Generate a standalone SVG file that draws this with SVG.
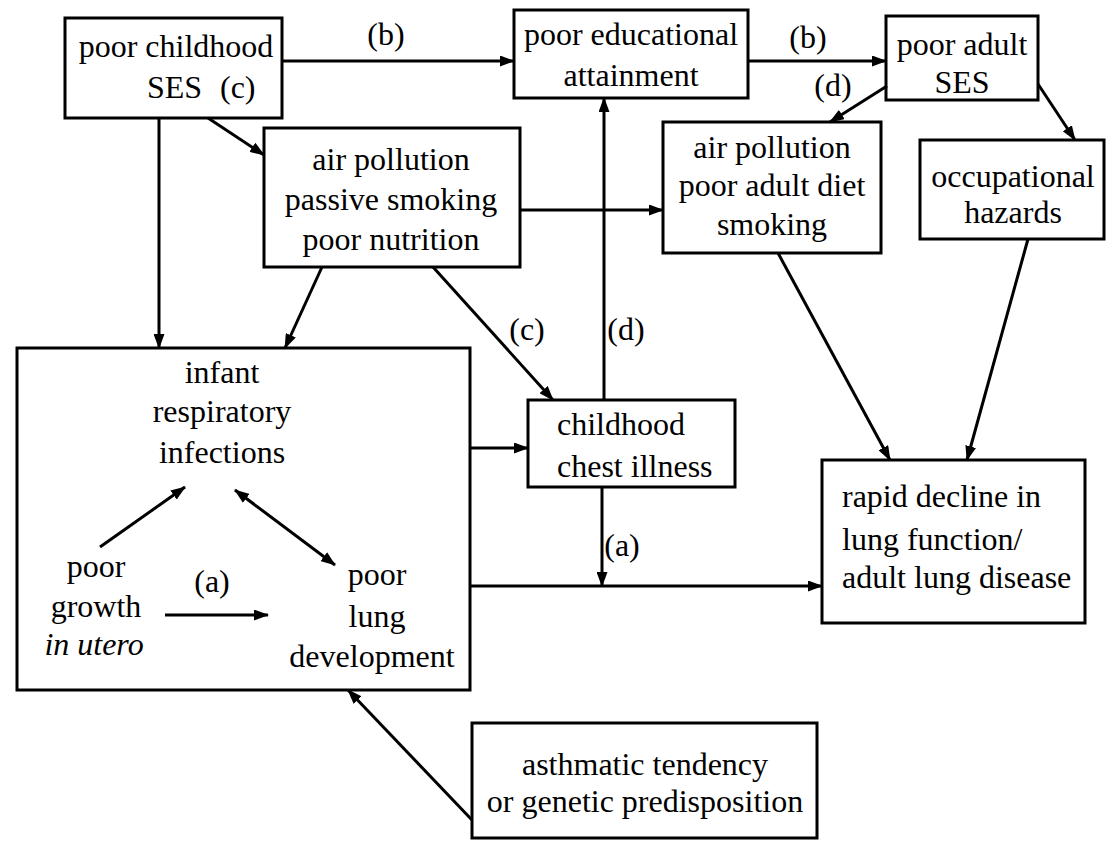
<svg xmlns="http://www.w3.org/2000/svg" width="1112" height="847" viewBox="0 0 1112 847">
<style>
.box{fill:#fff;stroke:#000;stroke-width:3}
.t{font-family:"Liberation Serif","Times New Roman",serif;font-size:32px;fill:#000;text-anchor:middle}
.l{text-anchor:start}
.c{fill:none;stroke:#000;stroke-width:3}
</style>
<defs>
<marker id="ah" markerUnits="userSpaceOnUse" markerWidth="15" markerHeight="11" refX="14" refY="5.5" orient="auto-start-reverse">
<path d="M0,0 L15,5.5 L0,11 z" fill="#000"/>
</marker>
</defs>
<rect width="1112" height="847" fill="#fff"/>
<g id="poor-childhood-ses">
<rect class="box" x="65" y="18" width="217" height="100"/>
<text class="t" x="176" y="57">poor childhood</text>
<text class="t l" x="147" y="98">SES</text>
<text class="t l" x="220" y="98">(c)</text>
</g>
<g id="poor-educational-attainment">
<rect class="box" x="514" y="10" width="234" height="88"/>
<text class="t" x="631" y="45">poor educational</text>
<text class="t" x="631" y="86">attainment</text>
</g>
<g id="poor-adult-ses">
<rect class="box" x="886" y="16" width="152" height="84"/>
<text class="t" x="962" y="55">poor adult</text>
<text class="t" x="962" y="93">SES</text>
</g>
<g id="air-pollution-child">
<rect class="box" x="264" y="128" width="256" height="139"/>
<text class="t" x="391" y="170">air pollution</text>
<text class="t" x="391" y="210">passive smoking</text>
<text class="t" x="391" y="250">poor nutrition</text>
</g>
<g id="air-pollution-adult">
<rect class="box" x="663" y="122" width="218" height="131"/>
<text class="t" x="772" y="158">air pollution</text>
<text class="t" x="772" y="196">poor adult diet</text>
<text class="t" x="772" y="235">smoking</text>
</g>
<g id="occupational-hazards">
<rect class="box" x="920" y="140" width="184" height="99"/>
<text class="t" x="1013" y="187">occupational</text>
<text class="t" x="1013" y="223">hazards</text>
</g>
<g id="infant-box">
<rect class="box" x="17" y="348" width="453" height="342"/>
<text class="t" x="222" y="383">infant</text>
<text class="t" x="222" y="422">respiratory</text>
<text class="t" x="222" y="463">infections</text>
<text class="t" x="96" y="577">poor</text>
<text class="t" x="96" y="617">growth</text>
<text class="t" x="94" y="655" font-style="italic">in utero</text>
<text class="t" x="377" y="585">poor</text>
<text class="t" x="377" y="627">lung</text>
<text class="t" x="372" y="667">development</text>
</g>
<g id="childhood-chest-illness">
<rect class="box" x="528" y="400" width="207" height="87"/>
<text class="t l" x="557" y="435">childhood</text>
<text class="t l" x="557" y="477">chest illness</text>
</g>
<g id="rapid-decline">
<rect class="box" x="822" y="460" width="263" height="163"/>
<text class="t l" x="842" y="507">rapid decline in</text>
<text class="t l" x="842" y="550">lung function/</text>
<text class="t l" x="842" y="588">adult lung disease</text>
</g>
<g id="asthmatic">
<rect class="box" x="472" y="723" width="345" height="115"/>
<text class="t" x="645" y="775" font-size="33">asthmatic tendency</text>
<text class="t" x="645" y="812" font-size="33">or genetic predisposition</text>
</g>
<g id="connectors">
<line class="c" x1="282" y1="61" x2="514" y2="61" marker-end="url(#ah)"/>
<text class="t" x="386" y="45">(b)</text>
<line class="c" x1="748" y1="61" x2="886" y2="61" marker-end="url(#ah)"/>
<text class="t" x="808" y="48">(b)</text>
<line class="c" x1="887" y1="86" x2="830" y2="122" marker-end="url(#ah)"/>
<text class="t" x="833" y="96">(d)</text>
<line class="c" x1="1038" y1="84" x2="1075" y2="140" marker-end="url(#ah)"/>
<line class="c" x1="208" y1="118" x2="264" y2="155" marker-end="url(#ah)"/>
<line class="c" x1="159" y1="118" x2="159" y2="348" marker-end="url(#ah)"/>
<line class="c" x1="520" y1="210" x2="663" y2="210" marker-end="url(#ah)"/>
<line class="c" x1="322" y1="267" x2="285" y2="348" marker-end="url(#ah)"/>
<line class="c" x1="433" y1="267" x2="553" y2="400" marker-end="url(#ah)"/>
<text class="t" x="527" y="340">(c)</text>
<line class="c" x1="604" y1="400" x2="604" y2="98" marker-end="url(#ah)"/>
<text class="t" x="626" y="340">(d)</text>
<line class="c" x1="470" y1="448" x2="528" y2="448" marker-end="url(#ah)"/>
<line class="c" x1="778" y1="253" x2="890" y2="460" marker-end="url(#ah)"/>
<line class="c" x1="1028" y1="239" x2="967" y2="460" marker-end="url(#ah)"/>
<line class="c" x1="470" y1="586" x2="822" y2="586" marker-end="url(#ah)"/>
<line class="c" x1="602" y1="487" x2="602" y2="586" marker-end="url(#ah)"/>
<text class="t" x="622" y="556">(a)</text>
<line class="c" x1="472" y1="820" x2="348" y2="690" marker-end="url(#ah)"/>
<line class="c" x1="100" y1="547" x2="185" y2="487" marker-end="url(#ah)"/>
<line class="c" x1="235" y1="490" x2="335" y2="565" marker-start="url(#ah)" marker-end="url(#ah)"/>
<line class="c" x1="165" y1="615" x2="268" y2="615" marker-end="url(#ah)"/>
<text class="t" x="212" y="592">(a)</text>
</g>
</svg>
